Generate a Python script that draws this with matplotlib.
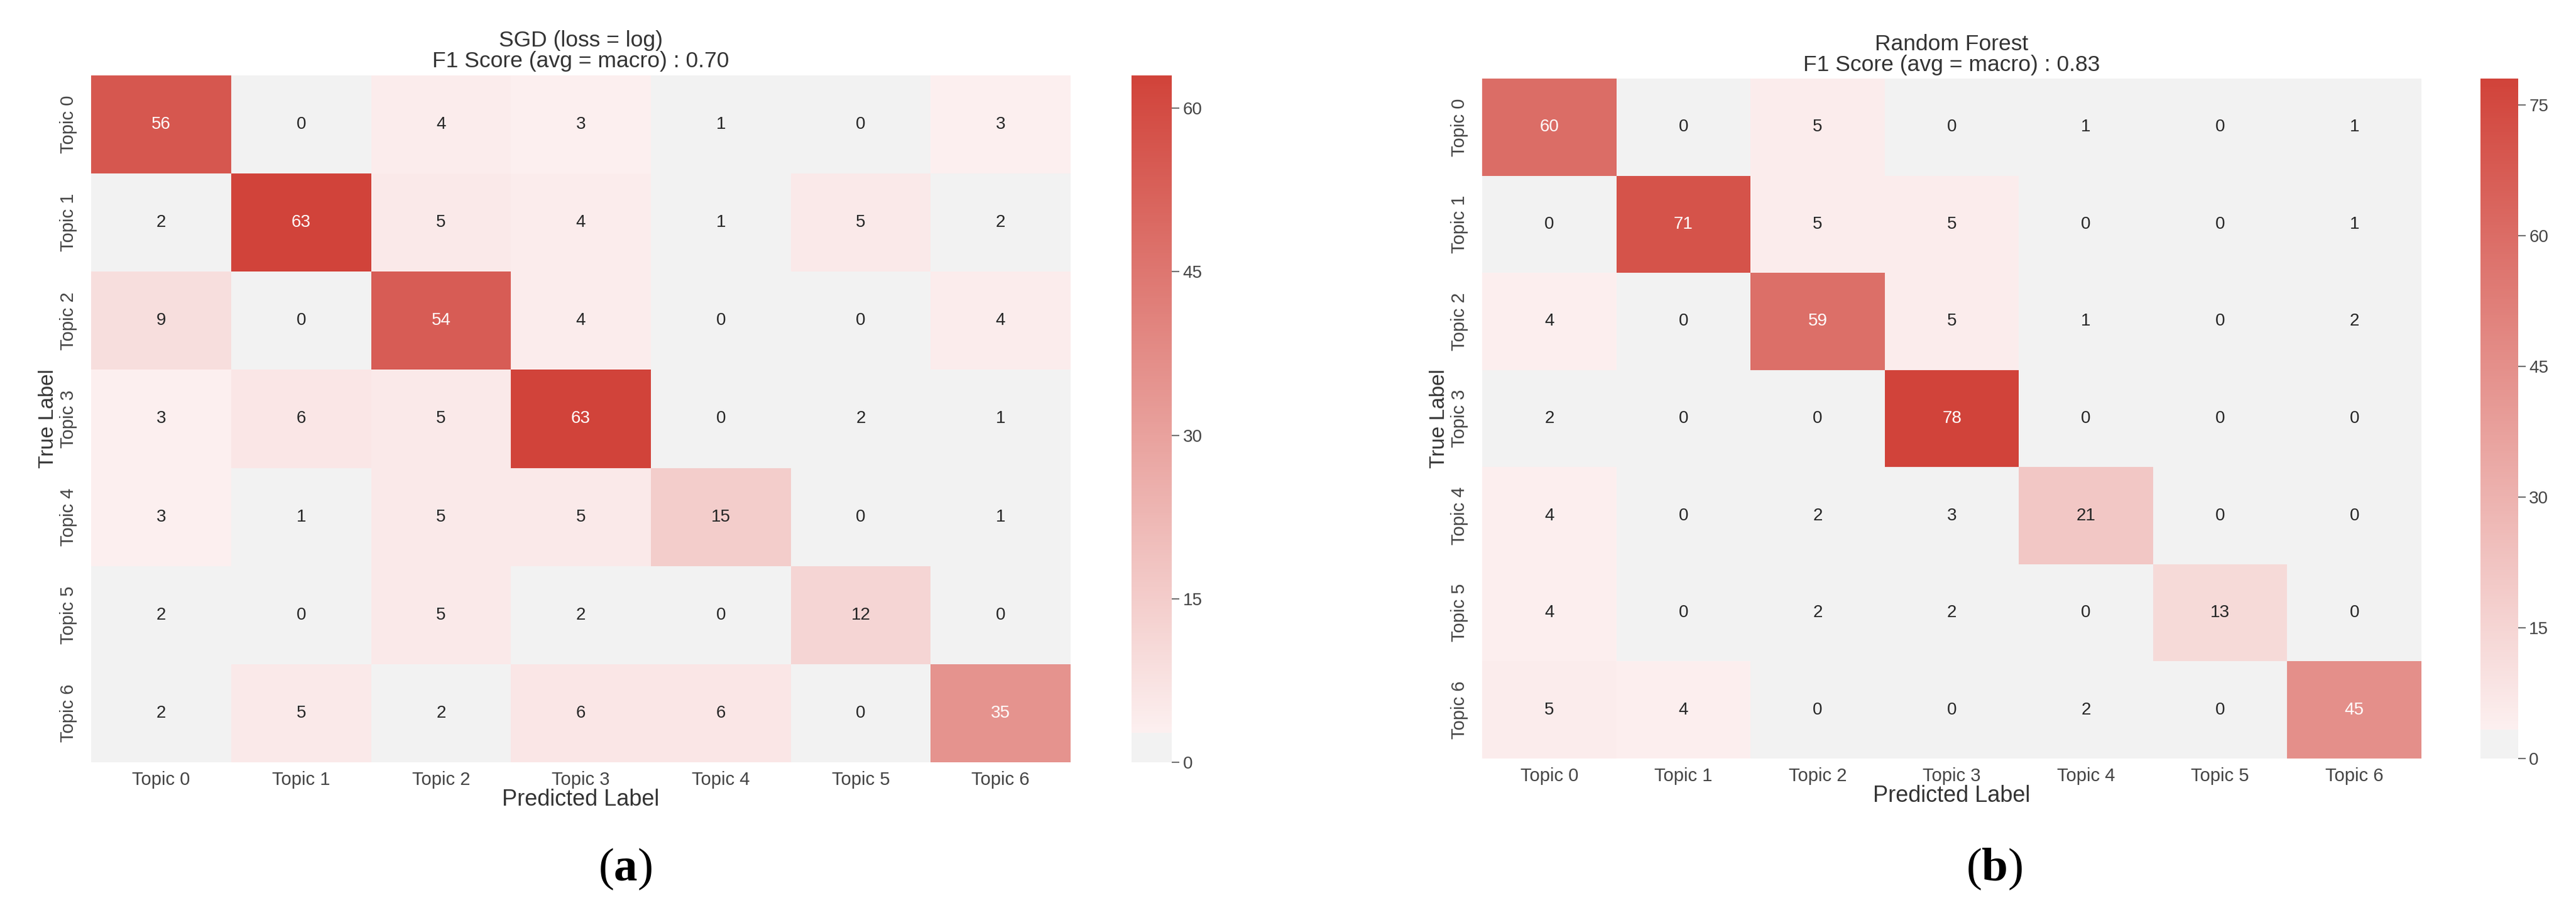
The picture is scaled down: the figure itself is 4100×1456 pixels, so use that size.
import numpy as np
import matplotlib
matplotlib.use("Agg")
import matplotlib.pyplot as plt
from matplotlib.colors import LinearSegmentedColormap
import seaborn as sns

topics = ["Topic 0", "Topic 1", "Topic 2", "Topic 3", "Topic 4", "Topic 5", "Topic 6"]

sgd_cm = [
    [56, 0, 4, 3, 1, 0, 3],
    [2, 63, 5, 4, 1, 5, 2],
    [9, 0, 54, 4, 0, 0, 4],
    [3, 6, 5, 63, 0, 2, 1],
    [3, 1, 5, 5, 15, 0, 1],
    [2, 0, 5, 2, 0, 12, 0],
    [2, 5, 2, 6, 6, 0, 35],
]
rf_cm = [
    [60, 0, 5, 0, 1, 0, 1],
    [0, 71, 5, 5, 0, 0, 1],
    [4, 0, 59, 5, 1, 0, 2],
    [2, 0, 0, 78, 0, 0, 0],
    [4, 0, 2, 3, 21, 0, 0],
    [4, 0, 2, 2, 0, 13, 0],
    [5, 4, 0, 0, 2, 0, 45],
]
sgd_title = "SGD (loss = log)\nF1 Score (avg = macro) : 0.70"
rf_title = "Random Forest\nF1 Score (avg = macro) : 0.83"
sgd_ticks = [0, 15, 30, 45, 60]
rf_ticks = [0, 15, 30, 45, 60, 75]

plt.rcParams['font.family'] = ['Liberation Sans', 'DejaVu Sans']
plt.rcParams['mathtext.fontset'] = 'custom'
plt.rcParams['mathtext.rm'] = 'Liberation Serif'
plt.rcParams['mathtext.bf'] = 'Liberation Serif:bold'

# gray band at the bottom, then light pink -> red
cmap = LinearSegmentedColormap.from_list("grayred", [
    (0.0, "#f2f2f2"), (0.04, "#f2f2f2"), (0.0401, "#fcf0f0"), (1.0, "#d1433a")])
tick_col = "#444444"
text_col = "#333333"

fig = plt.figure(figsize=(41, 14.56), dpi=100)


def draw(ax, cax, cm, title, ticks):
    sns.heatmap(np.array(cm), ax=ax, cbar_ax=cax, cmap=cmap,
                annot=True, fmt="d", annot_kws={"fontsize": 20},
                xticklabels=topics, yticklabels=topics,
                cbar_kws={"ticks": ticks})
    ax.set_title(title, fontsize=25.5, color=text_col, pad=9, linespacing=1.0)
    ax.set_xlabel("Predicted Label", fontsize=26, color=text_col, labelpad=0)
    ax.set_ylabel("True Label", fontsize=24, color=text_col, labelpad=2)
    ax.tick_params(axis="x", length=0, pad=10, labelsize=21, labelcolor=tick_col)
    ax.tick_params(axis="y", length=0, pad=16, labelsize=21, labelcolor=tick_col)
    plt.setp(ax.get_xticklabels(), rotation=0)
    plt.setp(ax.get_yticklabels(), rotation=90, va="center")
    cax.tick_params(length=8.6, width=1.1, color=tick_col, pad=4,
                    labelsize=20, labelcolor=tick_col)
    cbar = ax.collections[0].colorbar
    if cbar is not None:
        cbar.outline.set_visible(False)


ax1 = fig.add_axes([0.0354, 0.1669, 0.3802, 0.7507])
cax1 = fig.add_axes([0.4393, 0.1669, 0.0156, 0.7507])
draw(ax1, cax1, sgd_cm, sgd_title, sgd_ticks)

ax2 = fig.add_axes([0.5754, 0.1710, 0.3646, 0.7431])
cax2 = fig.add_axes([0.9629, 0.1710, 0.0146, 0.7431])
draw(ax2, cax2, rf_cm, rf_title, rf_ticks)

fig.text(0.2427, 0.05, r"($\mathbf{a}$)", fontsize=54, family="Liberation Serif",
         ha="center", va="center")
fig.text(0.7741, 0.05, r"($\mathbf{b}$)", fontsize=54, family="Liberation Serif",
         ha="center", va="center")

fig.savefig("out.png", dpi=100, facecolor="white")
